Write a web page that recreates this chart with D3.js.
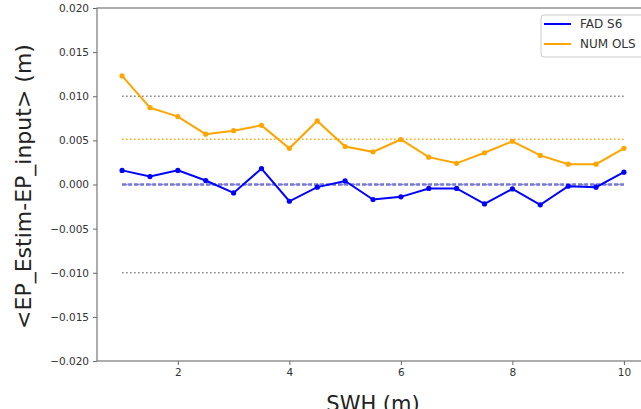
<!DOCTYPE html>
<html>
<head>
<meta charset="utf-8">
<script src="https://cdn.jsdelivr.net/npm/d3@7"></script>
<style>
  body { margin: 0; background: #fff; }
  text { font-family: "DejaVu Sans", sans-serif; }
</style>
</head>
<body>
<div id="chart"></div>
<script>
// SWH bins (m)
const swh = [1, 1.5, 2, 2.5, 3, 3.5, 4, 4.5, 5, 5.5, 6, 6.5, 7, 7.5, 8, 8.5, 9, 9.5, 10];
// mean EP error per bin
const fadS6 = [0.0016, 0.0009, 0.0016, 0.00045, -0.00095, 0.0018, -0.0019, -0.0003, 0.0004, -0.0017,
  -0.0014, -0.00045, -0.00045, -0.0022, -0.0005, -0.0023, -0.0002, -0.0003, 0.0014];
const numOls = [0.0123, 0.0087, 0.0077, 0.0057, 0.0061, 0.0067, 0.0041, 0.0072, 0.0043, 0.0037,
  0.0051, 0.0031, 0.0024, 0.0036, 0.0049, 0.0033, 0.0023, 0.0023, 0.0041];
const xTicks = [2, 4, 6, 8, 10];
const yTicks = [-0.02, -0.015, -0.01, -0.005, 0, 0.005, 0.01, 0.015, 0.02];
// grey dotted guide levels
const guideLevels = [0.01, 0, -0.01];
// dashed reference level of the FAD S6 curve
const fadLevel = 0;

const series = [
  { name: "FAD S6", values: fadS6, color: "#0000ff" },
  { name: "NUM OLS", values: numOls, color: "#ffa500" }
];

const width = 641, height = 409;
// axes box (right edge falls just outside the picture)
const m = { left: 97, right: 649, top: 8, bottom: 361 };

const svg = d3.select("#chart").append("svg")
  .attr("width", width)
  .attr("height", height);

const x = d3.scaleLinear().domain([0.55, 10.45]).range([m.left, m.right]);
const y = d3.scaleLinear().domain([-0.02, 0.02]).range([m.bottom, m.top]);

const xMin = d3.min(swh), xMax = d3.max(swh);

// reference lines of each series
svg.append("line")
  .attr("x1", x(xMin)).attr("x2", x(xMax))
  .attr("y1", y(fadLevel)).attr("y2", y(fadLevel))
  .attr("stroke", "#0000ff").attr("stroke-opacity", 0.55)
  .attr("stroke-width", 2.6).attr("stroke-dasharray", "4,2");

svg.append("line")
  .attr("x1", x(xMin)).attr("x2", x(xMax))
  .attr("y1", y(d3.mean(numOls))).attr("y2", y(d3.mean(numOls)))
  .attr("stroke", "#ffa500").attr("stroke-width", 1.5)
  .attr("stroke-dasharray", "1.5,2.5");

// grey dotted guides
svg.selectAll(".guide")
  .data(guideLevels)
  .enter()
  .append("line")
  .attr("class", "guide")
  .attr("x1", x(xMin)).attr("x2", x(xMax))
  .attr("y1", d => y(d)).attr("y2", d => y(d))
  .attr("stroke", "#808080").attr("stroke-width", 1.5)
  .attr("stroke-dasharray", "1.5,2.5");

const line = d3.line()
  .x((d, i) => x(swh[i]))
  .y(d => y(d));

series.forEach(s => {
  svg.append("path")
    .datum(s.values)
    .attr("d", line)
    .attr("fill", "none")
    .attr("stroke", s.color)
    .attr("stroke-width", 2);

  svg.selectAll(null)
    .data(s.values)
    .enter()
    .append("circle")
    .attr("cx", (d, i) => x(swh[i]))
    .attr("cy", d => y(d))
    .attr("r", 2.6)
    .attr("fill", s.color);
});

// axes
const xAxis = d3.axisBottom(x).tickValues(xTicks).tickSize(4).tickPadding(4).tickFormat(d3.format("d"));
const yAxis = d3.axisLeft(y).tickValues(yTicks).tickSize(4).tickPadding(4).tickFormat(d3.format(".3f"));

const gx = svg.append("g").attr("transform", `translate(0,${m.bottom})`).call(xAxis);
const gy = svg.append("g").attr("transform", `translate(${m.left},0)`).call(yAxis);

[gx, gy].forEach(g => {
  g.select(".domain").remove();
  g.selectAll(".tick line").attr("stroke", "#666").attr("stroke-width", 1);
  g.selectAll(".tick text").attr("fill", "#333").style("font-size", "10.5px");
});

// spines
svg.append("rect")
  .attr("x", m.left).attr("y", m.top)
  .attr("width", m.right - m.left).attr("height", m.bottom - m.top)
  .attr("fill", "none").attr("stroke", "#777").attr("stroke-width", 1.2);

// axis labels
svg.append("text")
  .attr("x", (m.left + m.right) / 2).attr("y", 411)
  .attr("text-anchor", "middle")
  .attr("fill", "#222")
  .style("font-size", "21px")
  .text("SWH (m)");

svg.append("text")
  .attr("transform", `translate(31,${(m.top + m.bottom) / 2 + 2}) rotate(-90)`)
  .attr("text-anchor", "middle")
  .attr("fill", "#222")
  .style("font-size", "22px")
  .text("<EP_Estim-EP_input> (m)");

// legend
const legend = svg.append("g").attr("transform", "translate(541,15)");
legend.append("rect")
  .attr("width", 120).attr("height", 42)
  .attr("rx", 3)
  .attr("fill", "#fff").attr("stroke", "#ccc");

series.forEach((s, i) => {
  const row = legend.append("g").attr("transform", `translate(0,${9 + i * 20})`);
  row.append("line")
    .attr("x1", 3).attr("x2", 30)
    .attr("stroke", s.color).attr("stroke-width", 2);
  row.append("text")
    .attr("x", 39).attr("y", 4)
    .attr("fill", "#333")
    .style("font-size", "12px")
    .text(s.name);
});
</script>
</body>
</html>
